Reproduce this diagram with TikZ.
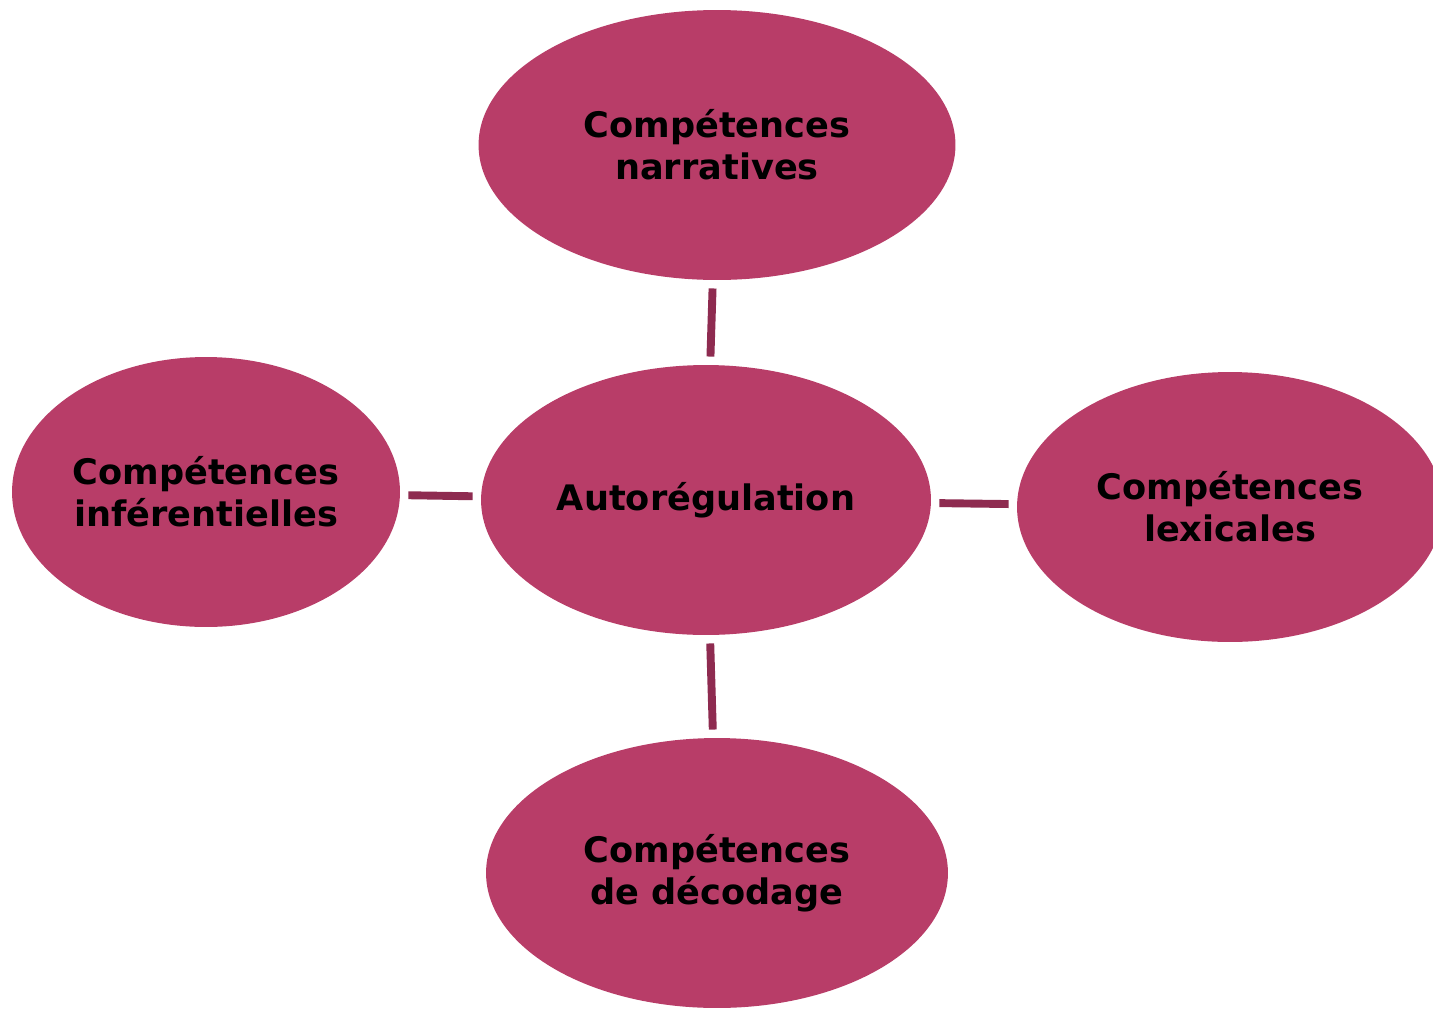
\documentclass[tikz,border=0pt]{standalone}
\usepackage{fontspec}
\setmainfont{DejaVu Sans}
\usetikzlibrary{shapes.geometric}
\definecolor{bulle}{HTML}{B83D68}
\definecolor{trait}{HTML}{8E2B50}
\begin{document}
\begin{tikzpicture}[
				x=0.02cm, y=-0.02cm,
				bulle/.style={
						ellipse,
						fill=bulle,
						draw=none,
						inner sep=0pt,
						outer sep=0.17cm,
						minimum height=5.4cm,
						align=center,
						font=\bfseries\fontsize{20}{24}\selectfont,
					},
				lien/.style={
						draw=trait,
						line width=4.5pt,
					},
			]
			\useasboundingbox (0,0) rectangle (1433,1008);

			\node[bulle, minimum width=9.0cm] (auto) at (706,500) {Autorégulation};
			\node[bulle, minimum width=9.54cm] (narr) at (717,145) {Compétences\\narratives};
			\node[bulle, minimum width=7.76cm] (infer) at (206,492) {Compétences\\inférentielles};
			\node[bulle, minimum width=8.52cm] (lex) at (1230,507) {Compétences\\lexicales};
			\node[bulle, minimum width=9.24cm] (deco) at (717,873) {Compétences\\de décodage};
			\draw[lien] (narr) -- (auto);
			\draw[lien] (infer) -- (auto);
			\draw[lien] (auto) -- (lex);
			\draw[lien] (auto) -- (deco);
		\end{tikzpicture}
\end{document}
